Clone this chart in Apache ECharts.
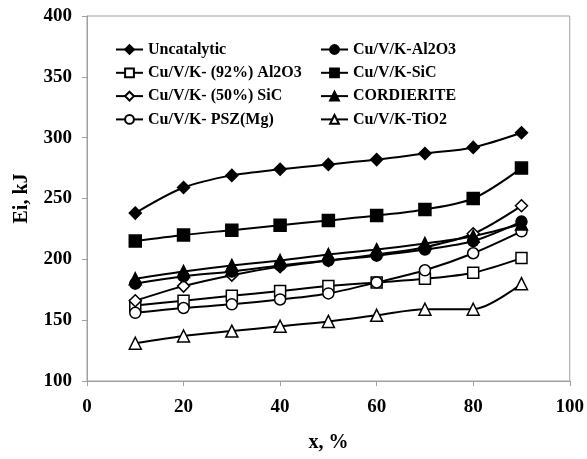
<!DOCTYPE html>
<html><head><meta charset="utf-8">
<script src="https://cdn.jsdelivr.net/npm/echarts@6/dist/echarts.min.js"></script>
<style>html,body{margin:0;padding:0;background:#fff}#c{width:587px;height:459px}</style>
</head><body><div id="c"></div>
<script>
const xs = [10, 20, 30, 40, 50, 60, 70, 80, 90];
const uncat = [238, 259, 269, 274, 278, 282, 287, 292, 304];
const al92 = [162, 166, 170, 174, 178, 181, 184, 189, 201];
const sic50 = [166, 178, 187, 194, 199, 204, 210, 221, 244];
const psz = [156, 160, 163, 167, 172, 181, 191, 205, 223];
const al2o3 = [180, 186, 190, 195, 199, 203, 208, 215, 231];
const sic = [215, 220, 224, 228, 232, 236, 241, 250, 275];
const cord = [184, 190, 195, 199, 204, 208, 213, 219, 229];
const tio2 = [131, 137, 141, 145, 149, 154, 159, 159, 180];
const names = ['Uncatalytic', 'Cu/V/K- (92%) Al2O3', 'Cu/V/K- (50%) SiC', 'Cu/V/K- PSZ(Mg)',
               'Cu/V/K-Al2O3', 'Cu/V/K-SiC', 'CORDIERITE', 'Cu/V/K-TiO2'];
const FONT = '"Liberation Serif", "Times New Roman", serif';
function mk(name, vals, symbol, filled, size) {
  return {
    name: name, type: 'line', smooth: 0.3,
    data: xs.map((x, i) => [x, vals[i]]),
    symbol: symbol, symbolSize: size,
    lineStyle: { color: '#000', width: 2 },
    itemStyle: { color: filled ? '#000' : '#fff', borderColor: '#000', borderWidth: 1.5 },
    emphasis: { disabled: true }
  };
}
const legendText = { fontFamily: FONT, fontWeight: 'bold', fontSize: 16, color: '#000' };
const chart = echarts.init(document.getElementById('c'), null, { renderer: 'canvas' });
chart.setOption({
  animation: false,
  backgroundColor: '#fff',
  grid: { left: 87, right: 15, top: 16, bottom: 78, show: true, borderColor: '#a0a0a0', borderWidth: 1 },
  legend: [
    { data: names.slice(0, 4), orient: 'vertical', left: 115, top: 41.5, padding: 0, itemWidth: 27, itemHeight: 11, itemGap: 7.3,
      textStyle: legendText },
    { data: names.slice(4), orient: 'vertical', left: 320, top: 41.5, padding: 0, itemWidth: 27, itemHeight: 11, itemGap: 7.3,
      textStyle: legendText }
  ],
  xAxis: {
    type: 'value', min: 0, max: 100, interval: 20,
    name: 'x, %', nameLocation: 'middle', nameGap: 52,
    nameTextStyle: { fontFamily: FONT, fontWeight: 'bold', fontSize: 20, color: '#000' },
    axisLine: { lineStyle: { color: '#a0a0a0', width: 1 } },
    axisTick: { show: true, inside: false, length: 5, lineStyle: { color: '#a0a0a0' } },
    axisLabel: { margin: 17, fontFamily: FONT, fontWeight: 'bold', fontSize: 19, color: '#000' },
    splitLine: { show: false }
  },
  yAxis: {
    type: 'value', min: 100, max: 400, interval: 50,
    name: 'Ei, kJ', nameLocation: 'middle', nameGap: 55,
    nameTextStyle: { fontFamily: FONT, fontWeight: 'bold', fontSize: 20, color: '#000' },
    axisLine: { show: true, lineStyle: { color: '#a0a0a0', width: 1 } },
    axisTick: { show: true, inside: false, length: 5, lineStyle: { color: '#a0a0a0' } },
    axisLabel: { margin: 15, fontFamily: FONT, fontWeight: 'bold', fontSize: 19, color: '#000' },
    splitLine: { show: false }
  },
  series: [
    mk(names[0], uncat, 'diamond', true, 12),
    mk(names[1], al92, 'rect', false, 11),
    mk(names[2], sic50, 'diamond', false, 12),
    mk(names[3], psz, 'circle', false, 11),
    mk(names[4], al2o3, 'circle', true, 11),
    mk(names[5], sic, 'rect', true, 12),
    mk(names[6], cord, 'triangle', true, 12),
    mk(names[7], tio2, 'triangle', false, 12)
  ]
});
</script></body></html>
